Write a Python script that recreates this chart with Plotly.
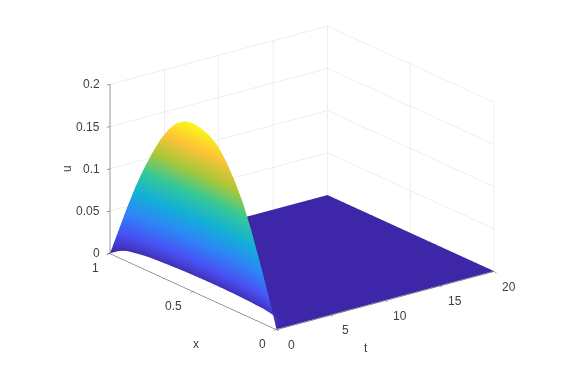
import plotly.graph_objects as go

x_values = [0, .05, .10, .15, .20, .25, .30, .35, .40, .45, .50, .55, .60, .65, .70, .75, .80, .85, .90, .95, 1]
t_values = [0, .15, .3, .45, .6, .75, .9, 1.2, 1.5, 2.2, 3, 20]
u_by_t = [
    [0, .037, .071, .103, .131, .153, .171, .185, .193, .197, .199, .197, .190, .178, .161, .140, .117, .091, .062, .031, 0],
    [0, .026, .050, .072, .092, .107, .120, .129, .134, .137, .138, .136, .131, .123, .112, .098, .082, .064, .043, .022, 0],
    [0, .018, .035, .050, .064, .075, .084, .090, .094, .096, .097, .095, .092, .086, .078, .069, .057, .045, .030, .015, 0],
    [0, .013, .024, .035, .045, .052, .058, .063, .065, .067, .067, .066, .064, .060, .054, .048, .040, .031, .021, .011, 0],
    [0, .009, .017, .025, .031, .037, .041, .044, .046, .047, .047, .047, .045, .042, .038, .034, .028, .022, .015, .007, 0],
    [0, .006, .012, .017, .022, .025, .028, .030, .032, .032, .033, .032, .031, .029, .026, .023, .019, .015, .010, .005, 0],
    [0, .004, .008, .012, .015, .018, .020, .021, .022, .023, .023, .022, .022, .020, .018, .016, .013, .010, .007, .004, 0],
    [0, .0021, .0040, .0058, .0073, .0086, .0096, .0103, .0108, .0110, .0110, .0109, .0105, .0099, .0090, .0078, .0066, .0051, .0035, .0017, 0],
    [0, .0010, .0019, .0028, .0035, .0041, .0046, .0050, .0052, .0053, .0053, .0052, .0050, .0048, .0043, .0038, .0032, .0025, .0017, .0008, 0],
    [0, .0002, .0003, .0005, .0006, .0007, .0008, .0008, .0009, .0009, .0009, .0009, .0008, .0008, .0007, .0006, .0005, .0004, .0003, .0001, 0],
    [0] * 21,
    [0] * 21,
]
t_ticks = [0, 5, 10, 15, 20]
x_ticks = [0, 0.5, 1]
u_ticks = [0, 0.05, 0.1, 0.15, 0.2]
u_tick_text = ["0", "0.05", "0.1", "0.15", "0.2"]

parula = [
    [0.000, "#3e26a8"], [0.143, "#4852f4"], [0.286, "#2d87f7"], [0.429, "#12b1d6"],
    [0.571, "#37c897"], [0.714, "#abc739"], [0.857, "#fec338"], [1.000, "#f9fb15"],
]

TEXT = "#404040"
GRID = "#dedede"
font = dict(family="Liberation Sans, Arial, sans-serif", size=12, color=TEXT)


def axis(vals, rng):
    return dict(
        title=dict(text=""), tickmode="array", tickvals=vals, showticklabels=False,
        range=rng, showbackground=False,
        showgrid=True, gridcolor=GRID, gridwidth=1,
        zeroline=False, showline=True, linecolor="#333333", linewidth=1,
        ticks="outside", ticklen=4, tickcolor="#444444", showspikes=False,
    )


def label(text, x, y, z, dx, dy, anchor="center", angle=0):
    return dict(
        x=x, y=y, z=z, text=text, showarrow=False, font=font, textangle=angle,
        xanchor=anchor, yanchor="middle", xshift=dx, yshift=dy,
    )


notes = []
notes += [label(str(v), v, 0, 0, 15, -15.5) for v in t_ticks]
notes += [label(str(v), 0, v, 0, -9, -15, "right") for v in x_ticks]
notes += [label(s, 0, 1, v, -8, 0, "right") for v, s in zip(u_ticks, u_tick_text)]
notes += [
    label("t", 10, 0, 0, -19, -48),
    label("x", 0, 0.5, 0, 3, -53),
    label("u", 0, 1, 0.1, -44, 0, angle=-90),
]

u_by_x = [list(col) for col in zip(*u_by_t)]

fig = go.Figure(go.Surface(
    x=t_values, y=x_values, z=u_by_x,
    colorscale=parula, cmin=0, cmax=0.199, showscale=False, hoverinfo="skip",
    lighting=dict(ambient=1, diffuse=0, specular=0, roughness=1, fresnel=0),
))
fig.update_layout(
    width=570, height=369, margin=dict(l=0, r=0, t=0, b=0),
    paper_bgcolor="white", font=font, showlegend=False,
    scene=dict(
        domain=dict(x=[0.041, 0.991], y=[0.03, 1.0]),
        xaxis=axis(t_ticks, [0, 20]),
        yaxis=axis(x_ticks, [0, 1]),
        zaxis=axis(u_ticks, [-0.0006, 0.2]),
        aspectmode="manual", aspectratio=dict(x=1.53, y=1.53, z=1.01),
        camera=dict(
            projection=dict(type="orthographic"),
            eye=dict(x=-1.14, y=-1.49, z=0.646),
            center=dict(x=0, y=0, z=-0.054), up=dict(x=0, y=0, z=1),
        ),
        annotations=notes,
    ),
)
fig.write_html("out.html", config=dict(displayModeBar=False))
